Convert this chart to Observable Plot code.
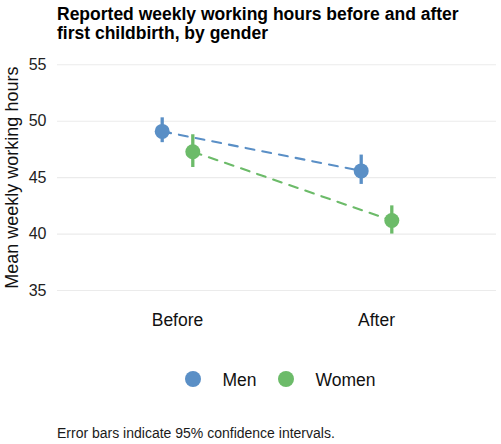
<!DOCTYPE html>
<html>
<head>
<meta charset="utf-8">
<script src="https://cdn.jsdelivr.net/npm/d3@7"></script>
<script src="https://cdn.jsdelivr.net/npm/@observablehq/plot@0.6"></script>
<style>
  html, body { margin: 0; padding: 0; background: #fff; }
  #wrap { position: relative; width: 501px; height: 444px; overflow: hidden; background: #fff;
          font-family: "Liberation Sans", Arial, Helvetica, sans-serif; color: #000; }
  #title { position: absolute; left: 57px; top: 4.5px; font-weight: bold; font-size: 17.5px; line-height: 19px; }
  #chart { position: absolute; left: 0; top: 44px; }
  #legend { position: absolute; left: 0; top: 360px; }
  #caption { position: absolute; left: 57px; top: 425px; font-size: 14px; line-height: 16px; color: #1a1a1a; }
</style>
</head>
<body>
<div id="wrap">
  <div id="title">Reported weekly working hours before and after<br>first childbirth, by gender</div>
  <div id="chart"></div>
  <div id="legend"></div>
  <div id="caption">Error bars indicate 95% confidence intervals.</div>
</div>
<script>
const periods = ["Before", "After"];
const genders = ["Men", "Women"];
const colors = ["#5a8fc6", "#6cbb69"];
const menMean = [49.1, 45.6];
const menLow = [48.1, 44.4];
const menHigh = [50.3, 47.0];
const womenMean = [47.3, 41.2];
const womenLow = [45.9, 40.0];
const womenHigh = [48.8, 42.5];
const yTicks = [35, 40, 45, 50, 55];
const yLabel = "Mean weekly working hours";

const rows = [];
periods.forEach((p, i) => {
  rows.push({period: p, gender: "Men", mean: menMean[i], low: menLow[i], high: menHigh[i]});
  rows.push({period: p, gender: "Women", mean: womenMean[i], low: womenLow[i], high: womenHigh[i]});
});
const offsets = {Men: -15.3, Women: 15.3};

const gMarks = genders.flatMap(g => {
  const d = rows.filter(r => r.gender === g);
  const dx = offsets[g];
  return [
    Plot.line(d, {x: "period", y: "mean", stroke: "gender", strokeWidth: 2.1, strokeDasharray: "9,8", dx}),
    Plot.ruleX(d, {x: "period", y1: "low", y2: "high", stroke: "gender", strokeWidth: 3.3, dx}),
    Plot.dot(d, {x: "period", y: "mean", fill: "gender", r: 7.5, dx})
  ];
});

const chart = Plot.plot({
  width: 501,
  height: 300,
  marginTop: 9,
  marginBottom: 42.7,
  marginLeft: 57,
  marginRight: 5,
  style: {fontFamily: "'Liberation Sans', Arial, Helvetica, sans-serif", background: "white", color: "#222"},
  x: {type: "point", domain: periods, padding: 0.6, label: null},
  y: {domain: [34, 56], label: null},
  color: {domain: genders, range: colors},
  marks: [
    Plot.gridY(yTicks, {stroke: "#ebebeb", strokeOpacity: 1, strokeWidth: 1.1}),
    Plot.axisY(yTicks, {tickSize: 0, tickPadding: 11, fontSize: 16, label: null, fill: "#222"}),
    Plot.axisX(periods, {tickSize: 0, tickPadding: 11.7, fontSize: 17.5, label: null, fill: "#111"}),
    Plot.text([yLabel], {frameAnchor: "left", rotate: -90, dx: -40, lineAnchor: "bottom", textAnchor: "middle", fontSize: 18, fill: "#111"}),
    ...gMarks
  ]
});
document.getElementById("chart").appendChild(chart);

// legend
const lx = [193, 286];
const legend = d3.select("#legend").append("svg").attr("width", 501).attr("height", 40);
genders.forEach((g, i) => {
  legend.append("circle").attr("cx", lx[i]).attr("cy", 19).attr("r", 8).attr("fill", colors[i]);
  legend.append("text").attr("x", lx[i] + 29.5).attr("y", 25.5)
    .attr("font-size", 17.5).attr("fill", "#111")
    .attr("font-family", "'Liberation Sans', Arial, Helvetica, sans-serif").text(g);
});
</script>
</body>
</html>
